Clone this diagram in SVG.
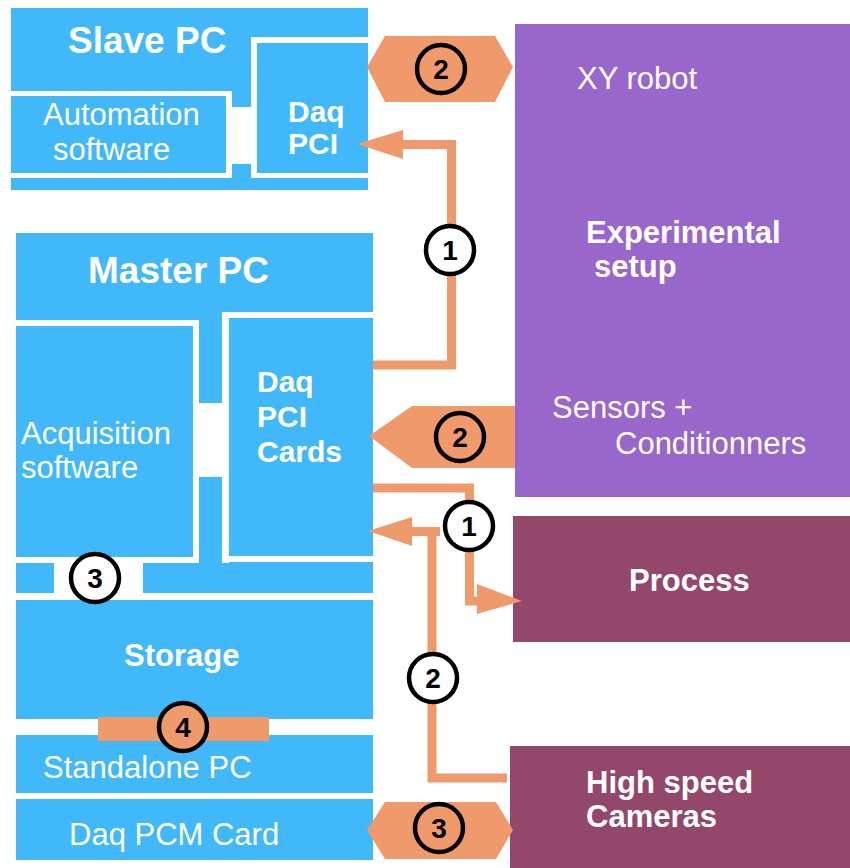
<svg xmlns="http://www.w3.org/2000/svg" width="850" height="868" viewBox="0 0 850 868">
<style>
.blue{fill:#41B8FA}
.wh{fill:#FFFFFF}
.purple{fill:#9966CC}
.maroon{fill:#93476A}
.or{fill:#F0996A}
.line{fill:none;stroke:#F0996A;stroke-width:9}
.t{font-family:"Liberation Sans",Arial,sans-serif;fill:#FFFFFF;font-size:31px}
.b{font-weight:bold}
.ring{stroke:#000;stroke-width:4.5}
.num{font-family:"Liberation Sans",Arial,sans-serif;font-weight:bold;font-size:28px;fill:#000;text-anchor:middle}
</style>
<rect width="850" height="868" fill="#FFFFFF"/>
<g id="slave-pc">
<rect class="blue" x="11" y="8" width="357" height="182"/>
<rect class="wh" x="11" y="91" width="221" height="5"/>
<rect class="wh" x="226" y="91" width="6" height="87"/>
<rect class="wh" x="251" y="37" width="6" height="141"/>
<rect class="wh" x="251" y="37" width="117" height="6"/>
<rect class="wh" x="232" y="107" width="19" height="57"/>
<rect class="wh" x="11" y="173" width="221" height="5"/>
<rect class="wh" x="251" y="173" width="117" height="5"/>
<text class="t b" x="68" y="53" style="font-size:37px">Slave PC</text>
<text class="t" x="43" y="125">Automation</text>
<text class="t" x="53" y="160">software</text>
<text class="t b" x="288" y="122" style="font-size:30px">Daq</text>
<text class="t b" x="288" y="154" style="font-size:30px">PCI</text>
</g>
<g id="master-pc">
<rect class="blue" x="16" y="233" width="357" height="360"/>
<rect class="wh" x="16" y="320" width="183" height="6"/>
<rect class="wh" x="193" y="320" width="6" height="243"/>
<rect class="wh" x="222" y="312" width="7" height="251"/>
<rect class="wh" x="222" y="312" width="151" height="6"/>
<rect class="wh" x="199" y="403" width="23" height="74"/>
<rect class="wh" x="16" y="557" width="183" height="6"/>
<rect class="wh" x="229" y="556" width="144" height="6"/>
<rect class="wh" x="54" y="563" width="89" height="30"/>
<text class="t b" x="88" y="283" style="font-size:37px">Master PC</text>
<text class="t" x="21" y="444">Acquisition</text>
<text class="t" x="21" y="478">software</text>
<text class="t b" x="257" y="392" style="font-size:30px">Daq</text>
<text class="t b" x="257" y="427" style="font-size:30px">PCI</text>
<text class="t b" x="257" y="462" style="font-size:30px">Cards</text>
</g>
<g id="storage">
<rect class="blue" x="16" y="600" width="357" height="119"/>
<text class="t b" x="124" y="666">Storage</text>
</g>
<g id="standalone-pc">
<rect class="blue" x="16" y="735" width="357" height="58"/>
<text class="t" x="43" y="778">Standalone PC</text>
</g>
<g id="daq-pcm">
<rect class="blue" x="16" y="799" width="357" height="61"/>
<text class="t" x="69" y="845">Daq PCM Card</text>
</g>
<g id="experimental-setup">
<rect class="purple" x="515" y="24" width="335" height="473"/>
<text class="t" x="577" y="89">XY robot</text>
<text class="t b" x="586" y="243">Experimental</text>
<text class="t b" x="594" y="277">setup</text>
<text class="t" x="552" y="418">Sensors +</text>
<text class="t" x="615" y="454">Conditionners</text>
</g>
<g id="process">
<rect class="maroon" x="513" y="516" width="337" height="126"/>
<text class="t b" x="629" y="591">Process</text>
</g>
<g id="cameras">
<rect class="maroon" x="510" y="746" width="340" height="122"/>
<text class="t b" x="586" y="793">High speed</text>
<text class="t b" x="586" y="827">Cameras</text>
</g>
<g id="connectors">
<polygon class="or" points="367,67 385,36 495,36 513,67 495,102 385,102"/>
<polyline class="line" points="373,365 451.5,365 451.5,144.5 400,144.5"/>
<polygon class="or" points="357,144 403,130 403,159"/>
<polygon class="or" points="515,406 412,406 369,436 412,468 515,468"/>
<polyline class="line" points="373,488 469.5,488 469.5,601 480,601"/>
<polygon class="or" points="522,601 477,584 477,614"/>
<polyline class="line" points="507,778 432,778 432,531.5 410,531.5"/>
<rect class="or" x="432" y="527" width="8" height="9"/>
<polygon class="or" points="368,531 412,517 412,546"/>
<polygon class="or" points="367,830 385,802 496,802 513,830 496,859 385,859"/>
<rect class="or" x="98" y="717" width="171" height="24"/>
</g>
<g id="labels">
<circle class="ring or" cx="441" cy="69" r="24"/><text class="num" x="441" y="79">2</text>
<circle class="ring wh" cx="450" cy="250" r="24"/><text class="num" x="450" y="260">1</text>
<circle class="ring or" cx="460" cy="437" r="24"/><text class="num" x="460" y="447">2</text>
<circle class="ring wh" cx="469" cy="526" r="24"/><text class="num" x="469" y="536">1</text>
<circle class="ring wh" cx="433" cy="678" r="24"/><text class="num" x="433" y="688">2</text>
<circle class="ring or" cx="439" cy="828" r="24"/><text class="num" x="439" y="838">3</text>
<circle class="ring wh" cx="95" cy="578" r="24"/><text class="num" x="95" y="588">3</text>
<circle class="ring or" cx="183" cy="727" r="24"/><text class="num" x="183" y="737">4</text>
</g>
</svg>
